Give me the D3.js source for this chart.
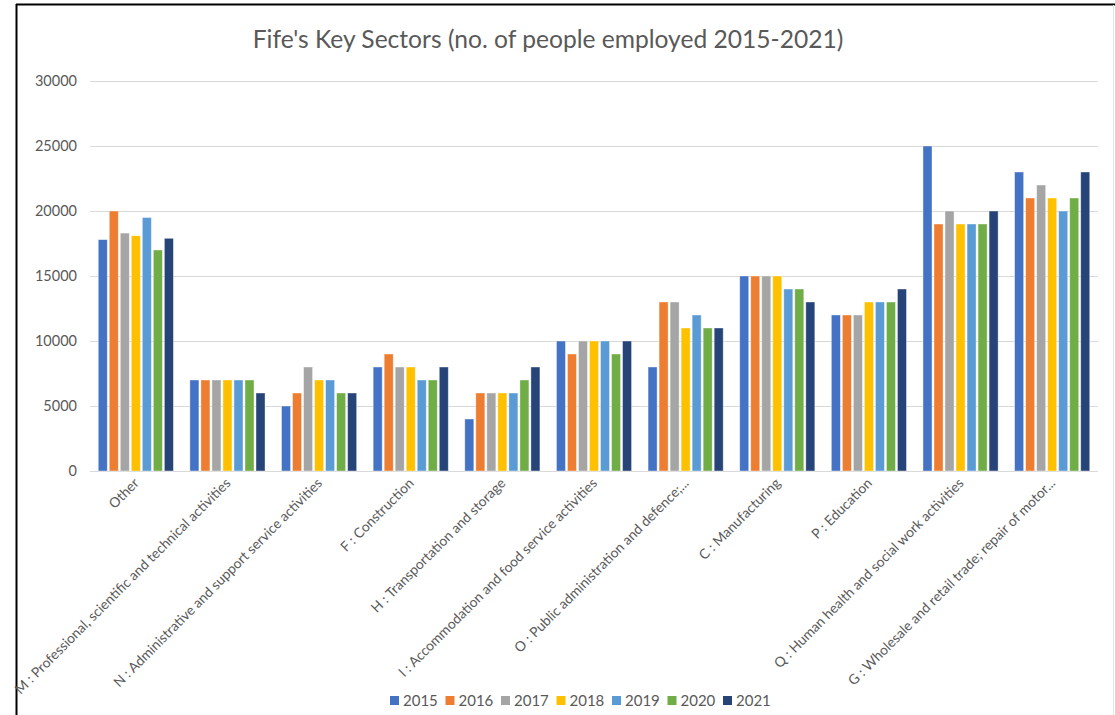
<!DOCTYPE html>
<html>
<head>
<meta charset="utf-8">
<script src="https://cdn.jsdelivr.net/npm/d3@7"></script>
<style>
  html, body { margin: 0; padding: 0; background: #fff; }
  svg { display: block; }
  text { font-family: Lato, "Open Sans", sans-serif; }
</style>
</head>
<body>
<svg id="chart" width="1115" height="715"></svg>
<script>
const categories = [
  "Other",
  "M : Professional, scientific and technical activities",
  "N : Administrative and support service activities",
  "F : Construction",
  "H : Transportation and storage",
  "I : Accommodation and food service activities",
  "O : Public administration and defence;...",
  "C : Manufacturing",
  "P : Education",
  "Q : Human health and social work activities",
  "G : Wholesale and retail trade; repair of motor..."
];
const years = ["2015", "2016", "2017", "2018", "2019", "2020", "2021"];
const values2015 = [17800, 7000, 5000, 8000, 4000, 10000, 8000, 15000, 12000, 25000, 23000];
const values2016 = [20000, 7000, 6000, 9000, 6000, 9000, 13000, 15000, 12000, 19000, 21000];
const values2017 = [18300, 7000, 8000, 8000, 6000, 10000, 13000, 15000, 12000, 20000, 22000];
const values2018 = [18100, 7000, 7000, 8000, 6000, 10000, 11000, 15000, 13000, 19000, 21000];
const values2019 = [19500, 7000, 7000, 7000, 6000, 10000, 12000, 14000, 13000, 19000, 20000];
const values2020 = [17000, 7000, 6000, 7000, 7000, 9000, 11000, 14000, 13000, 19000, 21000];
const values2021 = [17900, 6000, 6000, 8000, 8000, 10000, 11000, 13000, 14000, 20000, 23000];
const yTicks = [0, 5000, 10000, 15000, 20000, 25000, 30000];
const colors = ["#4472C4", "#ED7D31", "#A5A5A5", "#FFC000", "#5B9BD5", "#70AD47", "#264478"];
const title = "Fife's Key Sectors (no. of people employed 2015-2021)";

const series = [values2015, values2016, values2017, values2018, values2019, values2020, values2021];

const svg = d3.select("#chart");
const W = 1115, H = 715;
const plot = { left: 90, right: 1098, top: 81, bottom: 471 };

// frame lines (screenshot border)
svg.append("line").attr("x1", 16.5).attr("x2", 16.5).attr("y1", 4).attr("y2", H)
  .attr("stroke", "#000").attr("stroke-width", 2);
svg.append("line").attr("x1", 16).attr("x2", W).attr("y1", 4.5).attr("y2", 4.5)
  .attr("stroke", "#000").attr("stroke-width", 2);
svg.append("line").attr("x1", 1113.5).attr("x2", 1113.5).attr("y1", 5).attr("y2", H)
  .attr("stroke", "#e6e6e6").attr("stroke-width", 1);

// title
svg.append("text").attr("x", 548).attr("y", 48).attr("text-anchor", "middle")
  .attr("font-size", 24.6).attr("fill", "#595959").text(title);

const x0 = d3.scaleBand().domain(categories).range([plot.left, plot.right]).paddingInner(0.18).paddingOuter(0.09);
const x1 = d3.scaleBand().domain(years).range([0, x0.bandwidth()]).paddingInner(0.18);
const y = d3.scaleLinear().domain([0, 30000]).range([plot.bottom, plot.top]);

// gridlines
svg.append("g").selectAll("line").data(yTicks).join("line")
  .attr("x1", plot.left).attr("x2", plot.right)
  .attr("y1", d => Math.round(y(d)) + 0.5).attr("y2", d => Math.round(y(d)) + 0.5)
  .attr("stroke", "#d9d9d9").attr("stroke-width", 1);

// y axis labels
const yAxis = d3.axisLeft(y).tickValues(yTicks).tickSize(0).tickPadding(0).tickFormat(d3.format("d"));
const yg = svg.append("g").attr("transform", `translate(${plot.left - 13},0)`).call(yAxis);
yg.select(".domain").remove();
yg.selectAll("text").attr("font-size", 14.5).attr("fill", "#595959").attr("font-family", "Lato, sans-serif");

// bars
const groups = svg.append("g").selectAll("g").data(categories).join("g")
  .attr("transform", d => `translate(${x0(d)},0)`);
groups.selectAll("rect").data((d, i) => years.map((yr, j) => ({ yr, v: series[j][i], j })))
  .join("rect")
  .attr("x", d => x1(d.yr))
  .attr("width", x1.bandwidth())
  .attr("y", d => y(d.v))
  .attr("height", d => y(0) - y(d.v))
  .attr("fill", d => colors[d.j])
  .attr("stroke", "#ffffff").attr("stroke-opacity", 0.5).attr("stroke-width", 0.8);

// x axis labels
const xAxis = d3.axisBottom(x0).tickSize(0).tickPadding(0);
const xg = svg.append("g").attr("transform", `translate(0,${plot.bottom})`).call(xAxis);
xg.select(".domain").remove();
xg.selectAll("text")
  .attr("font-size", 13.8).attr("fill", "#595959").attr("font-family", "Lato, sans-serif")
  .attr("text-anchor", "end").attr("dy", 0).attr("y", 0)
  .attr("transform", "translate(4,13) rotate(-45)");

// legend
const legend = svg.append("g").attr("transform", "translate(390,706)");
const items = legend.selectAll("g").data(years).join("g")
  .attr("transform", (d, i) => `translate(${i * 55.5},0)`);
items.append("rect").attr("x", 0).attr("y", -10).attr("width", 9).attr("height", 9)
  .attr("fill", (d, i) => colors[i]);
items.append("text").attr("x", 13).attr("y", 0).attr("font-size", 15).attr("fill", "#595959")
  .text(d => d);
</script>
</body>
</html>
